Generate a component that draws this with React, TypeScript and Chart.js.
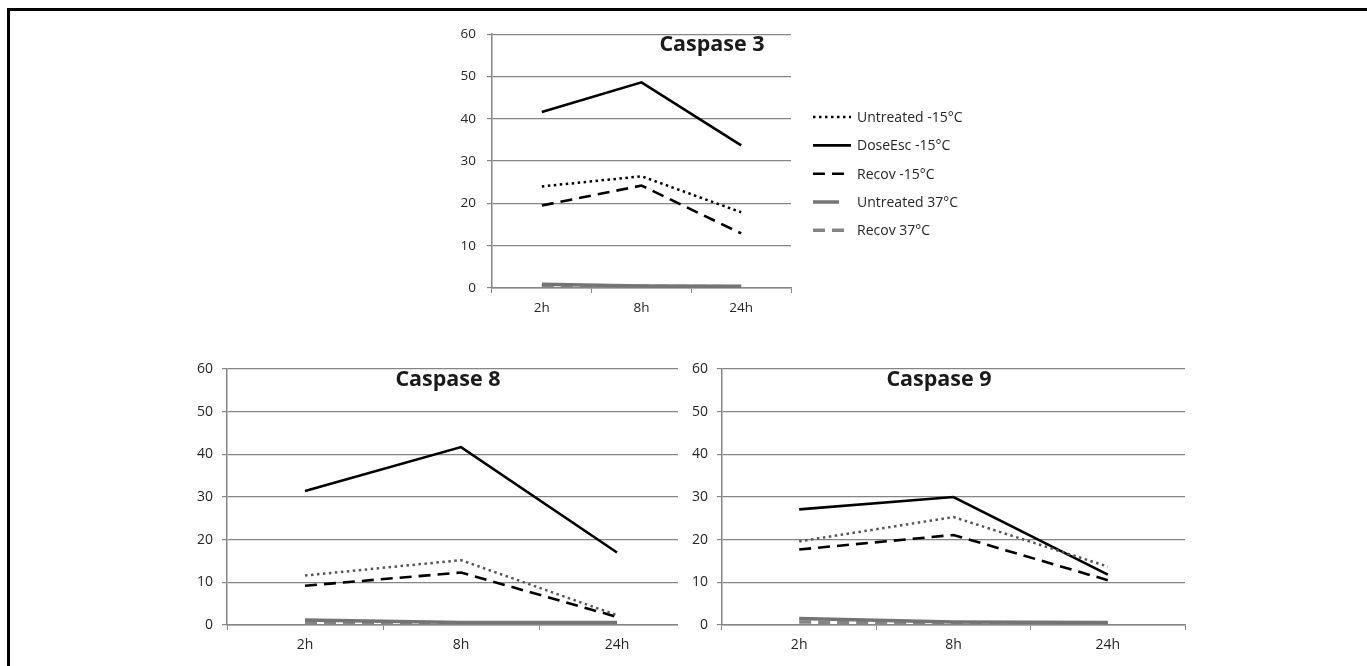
import React, { useEffect, useRef } from "react";
import { Chart, registerables } from "chart.js";

Chart.register(...registerables);

const categories = ["2h", "8h", "24h"];
const seriesLabels = ["Untreated -15°C", "DoseEsc -15°C", "Recov -15°C", "Untreated 37°C", "Recov 37°C"];
const yTicks = [0, 10, 20, 30, 40, 50, 60];

const casp3Untreated15 = [24.0, 26.4, 17.9];
const casp3DoseEsc15 = [41.6, 48.6, 33.7];
const casp3Recov15 = [19.5, 24.2, 12.9];
const casp3Untreated37 = [0.9, 0.5, 0.4];
const casp3Recov37 = [0.5, 0.4, 0.3];

const casp8Untreated15 = [11.6, 15.2, 2.3];
const casp8DoseEsc15 = [31.4, 41.7, 17.0];
const casp8Recov15 = [9.2, 12.3, 1.9];
const casp8Untreated37 = [1.2, 0.6, 0.6];
const casp8Recov37 = [0.6, 0.3, 0.3];

const casp9Untreated15 = [19.6, 25.3, 13.7];
const casp9DoseEsc15 = [27.1, 30.0, 11.8];
const casp9Recov15 = [17.7, 21.1, 10.5];
const casp9Untreated37 = [1.5, 0.7, 0.6];
const casp9Recov37 = [0.7, 0.4, 0.3];

const FONT = "'Open Sans', 'Noto Sans', sans-serif";
const TEXT = "#262626";
const GRID = "#858585";

function makeDatasets(u15: number[], d15: number[], r15: number[], u37: number[], r37: number[], dotColor: string) {
  const styles = [
    { color: dotColor, width: 2.5, dash: [2.5, 3.5] },
    { color: "#000000", width: 2.6, dash: [] as number[] },
    { color: "#000000", width: 2.6, dash: [12, 7] },
    { color: "#747474", width: 3.5, dash: [] as number[] },
    { color: "#858585", width: 3.5, dash: [12, 7] },
  ];
  const values = [u15, d15, r15, u37, r37];
  return values.map((v, i) => ({
    label: seriesLabels[i],
    data: v,
    borderColor: styles[i].color,
    backgroundColor: styles[i].color,
    borderWidth: styles[i].width,
    borderDash: styles[i].dash,
    borderCapStyle: "butt",
    pointRadius: 0,
    tension: 0,
    fill: false,
  }));
}

const titlePlugin = {
  id: "panelTitle",
  afterDraw(chart: any, _args: any, opts: any) {
    if (!opts || !opts.text) return;
    const ctx = chart.ctx;
    const a = chart.chartArea;
    ctx.save();
    ctx.font = `bold 21.5px ${FONT}`;
    ctx.fillStyle = "#1a1a1a";
    ctx.textAlign = "center";
    ctx.textBaseline = "middle";
    ctx.fillText(opts.text, a.left + opts.dx, a.top + opts.dy);
    ctx.restore();
  },
};

const sideLegendPlugin = {
  id: "sideLegend",
  afterDraw(chart: any, _args: any, opts: any) {
    if (!opts || !opts.show) return;
    const ctx = chart.ctx;
    const a = chart.chartArea;
    ctx.save();
    chart.data.datasets.forEach((ds: any, i: number) => {
      const y = a.top + opts.top + i * opts.spacing;
      const x0 = a.right + opts.sampleStart;
      const x1 = x0 + (i === 3 ? 26 : opts.sampleLength);
      ctx.beginPath();
      ctx.strokeStyle = ds.borderColor;
      ctx.lineWidth = ds.borderWidth;
      ctx.setLineDash(ds.borderDash || []);
      ctx.lineCap = "butt";
      ctx.moveTo(x0, y);
      ctx.lineTo(x1, y);
      ctx.stroke();
      ctx.setLineDash([]);
      ctx.font = `14px ${FONT}`;
      ctx.fillStyle = TEXT;
      ctx.textAlign = "left";
      ctx.textBaseline = "middle";
      ctx.fillText(ds.label, a.right + opts.textStart, y + 1);
    });
    ctx.restore();
  },
};

type PanelProps = {
  left: number;
  top: number;
  width: number;
  height: number;
  yWidth: number;
  xHeight: number;
  padTop: number;
  padRight: number;
  title: string;
  titleDx: number;
  titleDy: number;
  datasets: any[];
  fontSize: number;
  yPad: number;
  legend?: boolean;
  bg?: string;
};

function Panel(p: PanelProps) {
  const ref = useRef<HTMLCanvasElement | null>(null);
  useEffect(() => {
    if (!ref.current) return;
    const chart = new Chart(ref.current, {
      type: "line",
      data: { labels: categories, datasets: p.datasets },
      plugins: [titlePlugin, sideLegendPlugin],
      options: {
        responsive: false,
        animation: false,
        layout: { padding: { left: 0, top: p.padTop, right: p.padRight, bottom: 0 } },
        plugins: {
          legend: { display: false },
          tooltip: { enabled: false },
          title: { display: false },
          panelTitle: { text: p.title, dx: p.titleDx, dy: p.titleDy },
          sideLegend: { show: !!p.legend, top: 83, spacing: 28.3, sampleStart: 22, sampleLength: 38, textStart: 66 },
        } as any,
        scales: {
          x: {
            type: "category",
            offset: true,
            afterFit: (s: any) => {
              s.height = p.xHeight;
            },
            grid: {
              offset: true,
              drawOnChartArea: false,
              drawTicks: true,
              tickLength: 5,
              color: GRID,
              lineWidth: 1,
            },
            border: { display: true, color: GRID, width: 1.5 },
            ticks: {
              color: TEXT,
              font: { family: FONT, size: p.fontSize },
              padding: 7,
              maxRotation: 0,
            },
          },
          y: {
            type: "linear",
            min: 0,
            max: 60,
            afterFit: (s: any) => {
              s.width = p.yWidth;
            },
            afterBuildTicks: (s: any) => {
              s.ticks = yTicks.map((v) => ({ value: v }));
            },
            grid: {
              drawOnChartArea: true,
              drawTicks: true,
              tickLength: 5,
              color: GRID,
              lineWidth: 1.2,
            },
            border: { display: true, color: GRID, width: 1.5 },
            ticks: {
              color: TEXT,
              font: { family: FONT, size: p.fontSize },
              padding: p.yPad,
            },
          },
        },
      } as any,
    });
    return () => chart.destroy();
  }, []);
  return (
    <canvas
      ref={ref}
      width={p.width}
      height={p.height}
      style={{
        position: "absolute",
        left: p.left,
        top: p.top,
        width: p.width,
        height: p.height,
        background: p.bg || "transparent",
      }}
    />
  );
}

export default function App() {
  return (
    <div style={{ position: "fixed", left: 0, top: 0, width: 1367, height: 666, background: "#ffffff", overflow: "hidden" }}>
      <div
        style={{
          position: "absolute",
          left: 7,
          top: 8,
          width: 1400,
          height: 700,
          borderTop: "3px solid #000",
          borderLeft: "3px solid #000",
        }}
      />
      <Panel
        left={440}
        top={15}
        width={560}
        height={310}
        yWidth={52}
        xHeight={37}
        padTop={17}
        padRight={209}
        title="Caspase 3"
        titleDx={220}
        titleDy={11}
        fontSize={13.5}
        yPad={11}
        legend
        datasets={makeDatasets(casp3Untreated15, casp3DoseEsc15, casp3Recov15, casp3Untreated37, casp3Recov37, "#000000")}
      />
      <Panel
        left={150}
        top={340}
        width={560}
        height={326}
        yWidth={77}
        xHeight={41}
        padTop={29}
        padRight={15}
        title="Caspase 8"
        titleDx={221}
        titleDy={11}
        fontSize={14}
        yPad={9}
        datasets={makeDatasets(casp8Untreated15, casp8DoseEsc15, casp8Recov15, casp8Untreated37, casp8Recov37, "#555555")}
      />
      <Panel
        left={678}
        top={340}
        width={560}
        height={326}
        yWidth={44}
        xHeight={41}
        padTop={29}
        padRight={53}
        title="Caspase 9"
        titleDx={217}
        titleDy={11}
        fontSize={14}
        yPad={9}
        bg="#ffffff"
        datasets={makeDatasets(casp9Untreated15, casp9DoseEsc15, casp9Recov15, casp9Untreated37, casp9Recov37, "#555555")}
      />
    </div>
  );
}
